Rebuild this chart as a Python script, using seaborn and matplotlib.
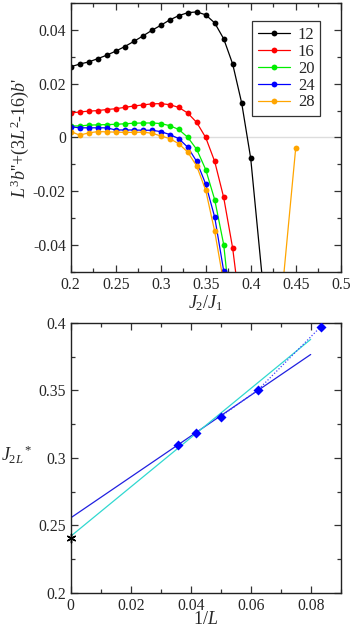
import numpy as np
import pandas as pd
import matplotlib
matplotlib.use("Agg")
import matplotlib.pyplot as plt
import seaborn as sns
from matplotlib.ticker import MultipleLocator

# ---------------- data (top panel) ----------------
sizes = [12, 16, 20, 24, 28]
colors = ["#000000", "#ff0000", "#00ee00", "#0000ff", "#ffa500"]

j12 = [0.20, 0.21, 0.22, 0.23, 0.24, 0.25, 0.26, 0.27, 0.28, 0.29, 0.30, 0.31,
       0.32, 0.33, 0.34, 0.35, 0.36, 0.37, 0.38, 0.39, 0.40, 0.42]
v12 = [0.0263, 0.0273, 0.0281, 0.0293, 0.0306, 0.0321, 0.0338, 0.0357, 0.0377,
       0.0398, 0.0417, 0.0437, 0.0453, 0.0464, 0.0467, 0.0456, 0.0426, 0.0367,
       0.0273, 0.0128, -0.0077, -0.077]

j16 = [0.20, 0.21, 0.22, 0.23, 0.24, 0.25, 0.26, 0.27, 0.28, 0.29, 0.30, 0.31,
       0.32, 0.33, 0.34, 0.35, 0.36, 0.37, 0.38, 0.39]
v16 = [0.0091, 0.0095, 0.0098, 0.0100, 0.0104, 0.0107, 0.0112, 0.0117, 0.0121,
       0.0125, 0.0126, 0.0122, 0.0112, 0.0091, 0.0056, 0.0000, -0.0089, -0.0223,
       -0.0412, -0.068]

j20 = [0.20, 0.21, 0.22, 0.23, 0.24, 0.25, 0.26, 0.27, 0.28, 0.29, 0.30, 0.31,
       0.32, 0.33, 0.34, 0.35, 0.36, 0.37, 0.38]
v20 = [0.0043, 0.0043, 0.0046, 0.0047, 0.0048, 0.0049, 0.0051, 0.0053, 0.0054,
       0.0054, 0.0052, 0.0044, 0.0030, 0.0001, -0.0044, -0.0119, -0.0231, -0.0398,
       -0.071]

j24 = [0.20, 0.21, 0.22, 0.23, 0.24, 0.25, 0.26, 0.27, 0.28, 0.29, 0.30, 0.31,
       0.32, 0.33, 0.34, 0.35, 0.36, 0.37, 0.38]
v24 = [0.0040, 0.0036, 0.0036, 0.0036, 0.0036, 0.0028, 0.0028, 0.0028, 0.0027,
       0.0027, 0.0022, 0.0011, -0.0004, -0.0036, -0.0089, -0.0173, -0.0296, -0.0496,
       -0.080]

j28 = [0.20, 0.21, 0.22, 0.23, 0.24, 0.25, 0.26, 0.27, 0.28, 0.29, 0.30, 0.31,
       0.32, 0.33, 0.34, 0.35, 0.36, 0.37, 0.38, 0.39, 0.40, 0.41, 0.42, 0.43, 0.45]
v28 = [0.0022, 0.0009, 0.0017, 0.0022, 0.0021, 0.0020, 0.0019, 0.0019, 0.0020,
       0.0016, 0.0006, -0.0004, -0.0023, -0.0054, -0.0106, -0.0196, -0.0349, -0.054,
       -0.085, -0.11, -0.12, -0.115, -0.10, -0.075, -0.0040]

# ---------------- data (bottom panel) ----------------
inv_L = [1 / 28, 1 / 24, 1 / 20, 1 / 16, 1 / 12]
j2L = [0.3099, 0.3185, 0.3306, 0.3504, 0.3970]
fit_lin_x = [0.0, 0.08]
fit_lin_y = [0.2556, 0.3765]
fit_cyan_x = [0.0, 0.08]
fit_cyan_y = [0.2420, 0.3877]
dot_x = [1 / 20, 1 / 16, 1 / 12]
dot_y = [0.3306, 0.3504, 0.3970]
extrap_x = [0.0]
extrap_y = [0.2410]

# ---------------- style ----------------
sns.set_style("ticks")
plt.rcParams["font.family"] = ["Liberation Serif", "DejaVu Serif"]
plt.rcParams["mathtext.fontset"] = "custom"
plt.rcParams["mathtext.rm"] = "Liberation Serif"
plt.rcParams["mathtext.it"] = "Liberation Serif:italic"
plt.rcParams["mathtext.bf"] = "Liberation Serif:bold"

fig = plt.figure(figsize=(3.54, 6.29), dpi=100)
ax1 = fig.add_axes([0.1997, 0.5676, 0.7627, 0.4276])
ax2 = fig.add_axes([0.1997, 0.0572, 0.7627, 0.4297])

TICK_FS = 11.3
LAB_FS = 13

def style_axes(ax):
    for s in ax.spines.values():
        s.set_linewidth(1.0)
        s.set_color("#222222")
    ax.tick_params(which="both", direction="in", top=True, right=True,
                   labelsize=TICK_FS, width=0.9, color="#333333", pad=3.5)
    ax.tick_params(which="major", length=5)
    ax.tick_params(which="minor", length=2.8)

# ---------------- top panel ----------------
frames = []
for L, xs, ys in zip(sizes, [j12, j16, j20, j24, j28], [v12, v16, v20, v24, v28]):
    frames.append(pd.DataFrame({"J": xs, "val": ys, "L": str(L)}))
df = pd.concat(frames, ignore_index=True)

ax1.axhline(0, color="#dddddd", lw=1.0, zorder=0)
sns.lineplot(data=df, x="J", y="val", hue="L", palette=colors, marker="o",
             markersize=4.2, markeredgewidth=0, linewidth=0.9, sort=True,
             estimator=None, ax=ax1, legend=True)

ax1.set_xlim(0.2, 0.5)
ax1.set_ylim(-0.05, 0.05)
ax1.xaxis.set_major_locator(MultipleLocator(0.05))
ax1.xaxis.set_minor_locator(MultipleLocator(0.025))
ax1.yaxis.set_major_locator(MultipleLocator(0.02))
ax1.yaxis.set_minor_locator(MultipleLocator(0.01))

def fmt_top_x(v, pos):
    return f"{v:.2f}".rstrip("0")
def fmt_y(v, pos):
    if abs(v) < 1e-9:
        return "0"
    return f"{v:.2f}"
ax1.xaxis.set_major_formatter(plt.FuncFormatter(fmt_top_x))
ax1.yaxis.set_major_formatter(plt.FuncFormatter(fmt_y))
style_axes(ax1)

ax1.set_xlabel(r"$J_2/J_1$", fontsize=LAB_FS, labelpad=0)
ax1.set_ylabel(r"$L^3b$''+(3$L^2$-16)$b$'", fontsize=LAB_FS, labelpad=1)

handles, labels = ax1.get_legend_handles_labels()
leg = ax1.legend(handles, labels, loc="upper right", bbox_to_anchor=(0.925, 0.932),
                 frameon=True, fancybox=False, edgecolor="black", fontsize=12,
                 handlelength=1.9, handletextpad=0.5, borderpad=0.35,
                 labelspacing=0.05, borderaxespad=0, markerscale=1.0)
leg.get_frame().set_linewidth(0.9)
for h in leg.legend_handles:
    h.set_marker("o")
    h.set_markersize(4.2)

# ---------------- bottom panel ----------------
sns.lineplot(x=fit_lin_x, y=fit_lin_y, color="#2020e0", linewidth=0.9, ax=ax2)
sns.lineplot(x=fit_cyan_x, y=fit_cyan_y, color="#30d8d0", linewidth=0.9, ax=ax2)
sns.lineplot(x=dot_x, y=dot_y, color="#4040ff", linewidth=0.9, ax=ax2,
             linestyle=(0, (1, 1.5)))
sns.scatterplot(x=inv_L, y=j2L, marker="D", s=26, color="#0000ff",
                edgecolor="#0000ff", linewidth=0, ax=ax2, zorder=5)
sns.scatterplot(x=extrap_x, y=extrap_y, marker=(6, 2, 0), s=40, color="black",
                linewidth=1.0, ax=ax2, zorder=6, clip_on=False)

ax2.set_xlim(0, 0.09)
ax2.set_ylim(0.2, 0.4)
ax2.xaxis.set_major_locator(MultipleLocator(0.02))
ax2.xaxis.set_minor_locator(MultipleLocator(0.01))
ax2.yaxis.set_major_locator(MultipleLocator(0.05))
ax2.yaxis.set_minor_locator(MultipleLocator(0.025))

def fmt_bx(v, pos):
    if abs(v) < 1e-9:
        return "0"
    return f"{v:.2f}"
def fmt_by(v, pos):
    s = f"{v:.2f}"
    if s.endswith("0"):
        s = s[:-1]
    return s
ax2.xaxis.set_major_formatter(plt.FuncFormatter(fmt_bx))
ax2.yaxis.set_major_formatter(plt.FuncFormatter(fmt_by))
style_axes(ax2)

ax2.set_xlabel(r"1/$L$", fontsize=LAB_FS, labelpad=-2)
ax2.set_ylabel(r"$J_{2L}$$^*$", fontsize=LAB_FS, rotation=0, labelpad=6)
ax2.yaxis.set_label_coords(-0.2, 0.47)

fig.savefig("out.png", dpi=100)
